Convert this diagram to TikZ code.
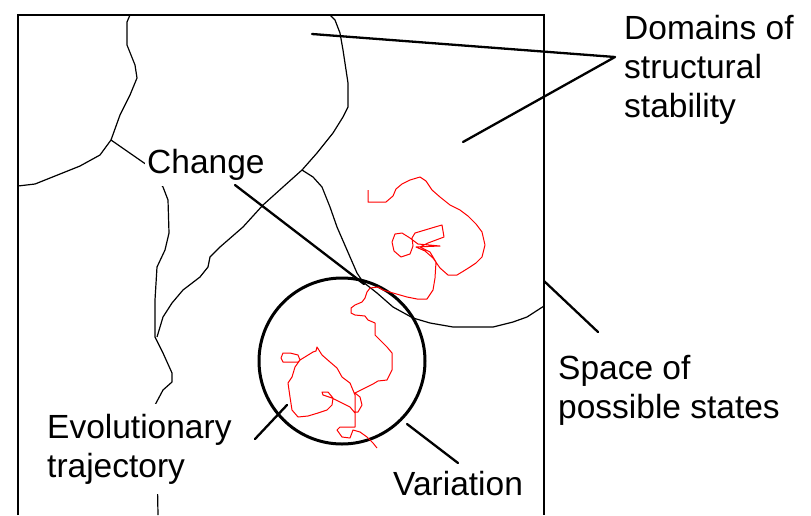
\documentclass[tikz,border=0pt]{standalone}
\usepackage{fontspec}
\setmainfont{Liberation Sans}
\begin{document}
\begin{tikzpicture}[x=1pt,y=-1pt,
  lbl/.style={font=\fontsize{33.5}{39}\selectfont, align=left, inner sep=0pt, anchor=base west},
  lblw/.style={lbl, fill=white, inner xsep=2pt, inner ysep=6pt},
  bline/.style={line width=1.2pt, line join=round},
  framestyle/.style={line width=1.4pt},
  ptr/.style={line width=2.3pt, line cap=round, line join=round},
  traj/.style={red, line width=1pt, line join=round},
  circ/.style={draw, circle, line width=3pt, minimum size=166pt, inner sep=0pt}]
\useasboundingbox (0,0) rectangle (811,515);
% frame (open at the bottom)
\draw[framestyle] (18,515) -- (18,15) -- (544,15) -- (544,515);
% boundaries of the domains
\draw[bline] plot coordinates {(130,15) (127,22) (127,45) (135,65) (137,78) (130,95) (120,115) (111,140)};
\draw[bline] plot coordinates {(111,140) (100,155) (80,166) (55,176) (35,184) (18,186)};
\draw[bline] plot coordinates {(111,140) (147,165) (163,187) (168,200) (169,233) (165,250) (157,267) (155,300) (155,337) (163,353) (172,373) (172,382) (163,390) (155,405) (157,460) (158,515)};
\draw[bline] plot coordinates {(330,15) (335,20) (340,33) (343,50) (348,83) (348,107) (343,117) (333,133) (317,153) (302,170)};
\draw[bline] plot coordinates {(302,170) (283,187) (263,205) (243,227) (220,247) (210,257) (208,267) (200,277) (183,290) (172,303) (163,317) (157,337)};
\draw[bline] plot coordinates {(302,170) (313,177) (322,187) (330,207) (337,227) (347,250) (357,273) (363,282) (377,293) (393,307) (413,318) (430,323) (453,327) (493,327) (513,322) (527,317) (544,306)};
% variation circle
\node[circ] (var) at (342,361) {};
% evolutionary trajectory
\draw[traj] plot coordinates {(368,190) (368,202) (386,202) (393,196) (396,189) (402,184) (410,180) (420,177) (426,181) (432,190) (440,197) (450,205) (460,210) (468,216) (476,224) (482,232) (485,245) (482,257) (476,263) (470,267) (462,272) (457,275) (448,275) (440,268) (433,258) (425,251) (416,247) (440,246) (418,244) (410,238) (402,233) (395,234) (392,242) (394,251) (401,257) (410,254) (413,246) (412,238) (415,233) (435,227) (442,225) (444,237) (428,243) (420,247) (430,252) (436,262) (435,278) (433,290) (427,299) (417,299) (407,297) (393,293) (383,290) (378,287) (370,288) (367,292) (365,298) (362,302) (355,305) (351,308) (351,313) (355,315) (365,316) (368,320) (375,323) (375,335) (380,340) (387,347) (392,353) (392,370) (387,380) (378,381) (373,384) (367,387) (357,392) (355,393) (360,397) (362,405) (358,412) (355,412) (355,395) (350,383) (342,377) (337,368) (330,362) (322,355) (317,347) (316,351) (313,352) (300,360) (298,355) (290,353) (283,353) (281,358) (283,362) (298,362) (300,360) (295,367) (292,377) (288,383) (290,397) (292,410) (298,417) (308,416) (318,413) (327,410) (332,405) (333,398) (328,392) (322,392) (323,395) (332,398) (340,402) (350,407) (355,413) (355,427) (350,427) (340,427) (337,430) (342,437) (350,438) (353,430) (360,432) (367,437) (373,443) (377,448)};
% labels (base anchor = baseline of the last line)
\node[lbl] (dom) at (624,117) {Domains of\\structural\\stability};
\node[lblw] (chg) at (145,173) {Change};
\node[lbl] (spc) at (558,418) {Space of\\possible states};
\node[lblw, inner ysep=10pt] (evo) at (45,477) {Evolutionary\\trajectory};
\node[lbl] (vari) at (393,495) {Variation};
% pointer end points
\coordinate (domtip) at (615,57);
\coordinate (dom1) at (312,34);
\coordinate (dom2) at (463,142);
\coordinate (chgA) at (235,185);
\coordinate (chgB) at (364,284);
\coordinate (spcA) at (544,281);
\coordinate (spcB) at (598,332);
\coordinate (evoA) at (255,439);
\coordinate (evoB) at (287,405);
\coordinate (varA) at (407,424);
\coordinate (varB) at (458,463);
% pointers
\draw[ptr] (dom1) -- (domtip) -- (dom2);
\draw[ptr] (chgA) -- (chgB);
\draw[ptr] (spcA) -- (spcB);
\draw[ptr] (evoA) -- (evoB);
\draw[ptr] (varA) -- (varB);
\end{tikzpicture}
\end{document}
